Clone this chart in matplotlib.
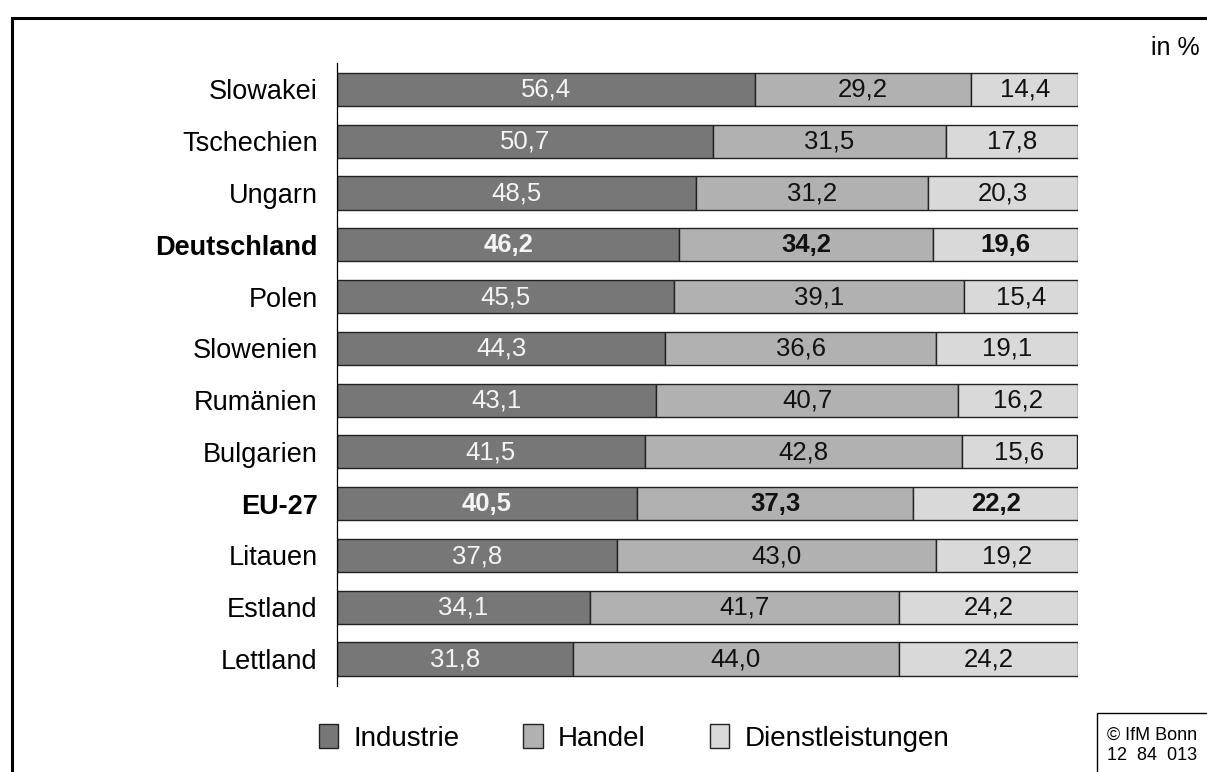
import matplotlib.pyplot as plt
from matplotlib.patches import Rectangle, Patch

plt.rcParams['font.family'] = ['Liberation Sans', 'DejaVu Sans']

laender = ['Slowakei', 'Tschechien', 'Ungarn', 'Deutschland', 'Polen', 'Slowenien',
           'Rumänien', 'Bulgarien', 'EU-27', 'Litauen', 'Estland', 'Lettland']
industrie = [56.4, 50.7, 48.5, 46.2, 45.5, 44.3, 43.1, 41.5, 40.5, 37.8, 34.1, 31.8]
handel = [29.2, 31.5, 31.2, 34.2, 39.1, 36.6, 40.7, 42.8, 37.3, 43.0, 41.7, 44.0]
dienst = [14.4, 17.8, 20.3, 19.6, 15.4, 19.1, 16.2, 15.6, 22.2, 19.2, 24.2, 24.2]
serien = ['Industrie', 'Handel', 'Dienstleistungen']
hervorgehoben = ['Deutschland', 'EU-27']

farben = ['#777777', '#b1b1b1', '#d9d9d9']
textfarben = ['#f4f4f4', '#111111', '#111111']

fig = plt.figure(figsize=(12.07, 7.72), dpi=100)
ax = fig.add_axes([337/1207, 1-686/772, (1078-337)/1207, (686-63)/772])

y = list(range(len(laender)))
links = [0]*len(laender)
for werte, farbe, tf in zip([industrie, handel, dienst], farben, textfarben):
    ax.barh(y, werte, left=links, height=0.64, color=farbe, edgecolor='#222222', linewidth=1.0)
    for i, w in enumerate(werte):
        fett = laender[i] in hervorgehoben
        ax.text(links[i] + w/2, i + 0.01, f'{w:.1f}'.replace('.', ','), ha='center', va='center',
                color=tf, fontsize=18.5, fontweight='bold' if fett else 'normal')
    links = [l + w for l, w in zip(links, werte)]

ax.set_xlim(0, 100)
ax.set_ylim(11.52, -0.51)
ax.set_yticks(y)
ax.set_yticklabels(laender, fontsize=19.5)
for lab in ax.get_yticklabels():
    if lab.get_text() in hervorgehoben:
        lab.set_fontweight('bold')
ax.tick_params(axis='y', length=0, pad=14)
ax.set_xticks([])
for s in ['top', 'right', 'bottom']:
    ax.spines[s].set_visible(False)
ax.spines['left'].set_linewidth(0.9)

# Rahmen
fig.add_artist(Rectangle((12/1207, -0.1), 1.2, 1.1 - 18/772, transform=fig.transFigure,
                         fill=False, edgecolor='black', linewidth=2.2))

fig.text(1200/1207, 1-48/772, 'in %', ha='right', va='center', fontsize=18)

handles = [Patch(facecolor=f, edgecolor='#222222', linewidth=1.0) for f in farben]
fig.legend(handles, serien, loc='center', bbox_to_anchor=(634/1207, 1-738/772), ncol=3,
           frameon=False, fontsize=20, handlelength=0.7, handleheight=0.9,
           handletextpad=0.55, columnspacing=2.3)

fig.add_artist(Rectangle((1097/1207, -0.05), 0.2, 0.05 + 1-713/772, transform=fig.transFigure,
                         fill=False, edgecolor='black', linewidth=1.0))
fig.text(1152/1207, 1-735/772, '© IfM Bonn', ha='center', va='center', fontsize=13)
fig.text(1152/1207, 1-756/772, '12  84  013', ha='center', va='center', fontsize=13)

fig.savefig('out.png', dpi=100)
